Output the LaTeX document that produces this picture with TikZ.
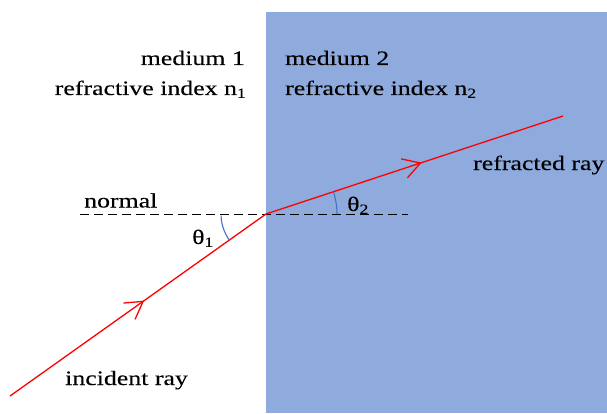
\documentclass[tikz,border=0pt]{standalone}
\usepackage{fontspec}
\setmainfont[FakeStretch=1.26,FakeBold=0.2]{Liberation Serif}
\usetikzlibrary{decorations.markings}
\definecolor{medblue}{HTML}{8FAADC}
\definecolor{arcblue}{HTML}{4472C4}
\newcommand\subdig[1]{\raisebox{-0.3ex}{\fontsize{14}{14}\selectfont #1}}
\tikzset{
  lbl/.style={font=\fontsize{20.5}{24}\selectfont, inner sep=0pt},
  ray/.style={red, line width=1.3pt, postaction={decorate},
    decoration={markings, mark=at position 0.52 with {\draw[red, line width=1.3pt] (-17pt,10pt) -- (0,0) -- (-17pt,-10pt);}}},
  anglearc/.style={arcblue, line width=1.1pt},
  normalline/.style={black, line width=1pt, dash pattern=on 9pt off 5pt}
}
\begin{document}
\begin{tikzpicture}[x=1pt,y=1pt]
\useasboundingbox (0,0) rectangle (607,413);
\fill[medblue] (266,0) rectangle (607,401);
\coordinate (P) at (266,199);
\coordinate (A) at (10,17);
\coordinate (B) at (563,297);
\coordinate (N1) at (80,199);
\coordinate (N2) at (408,199);
\draw[normalline] (N1) -- (N2);
\draw[ray] (A) -- (P);
\draw[ray] (P) -- (B);
\draw[anglearc] (P) ++(182:45) arc[start angle=182, end angle=215, radius=45];
\draw[anglearc] (P) ++(0:71) arc[start angle=0, end angle=18.3, radius=71];
\node[lbl, anchor=base east] (m1) at (245,348) {medium 1};
\node[lbl, anchor=base east] (r1) at (246,318) {refractive index n\subdig{1}};
\node[lbl, anchor=base west] (m2) at (285,348) {medium 2};
\node[lbl, anchor=base west] (r2) at (285,318) {refractive index n\subdig{2}};
\node[lbl, anchor=base west] (nl) at (84,205.5) {normal};
\node[lbl, anchor=base west] (t1) at (192,169) {θ\subdig{1}};
\node[lbl, anchor=base west] (t2) at (347,202) {θ\subdig{2}};
\node[lbl, anchor=base west] (rr) at (473,243) {refracted ray};
\node[lbl, anchor=base west] (ir) at (65,28) {incident ray};
\end{tikzpicture}
\end{document}
